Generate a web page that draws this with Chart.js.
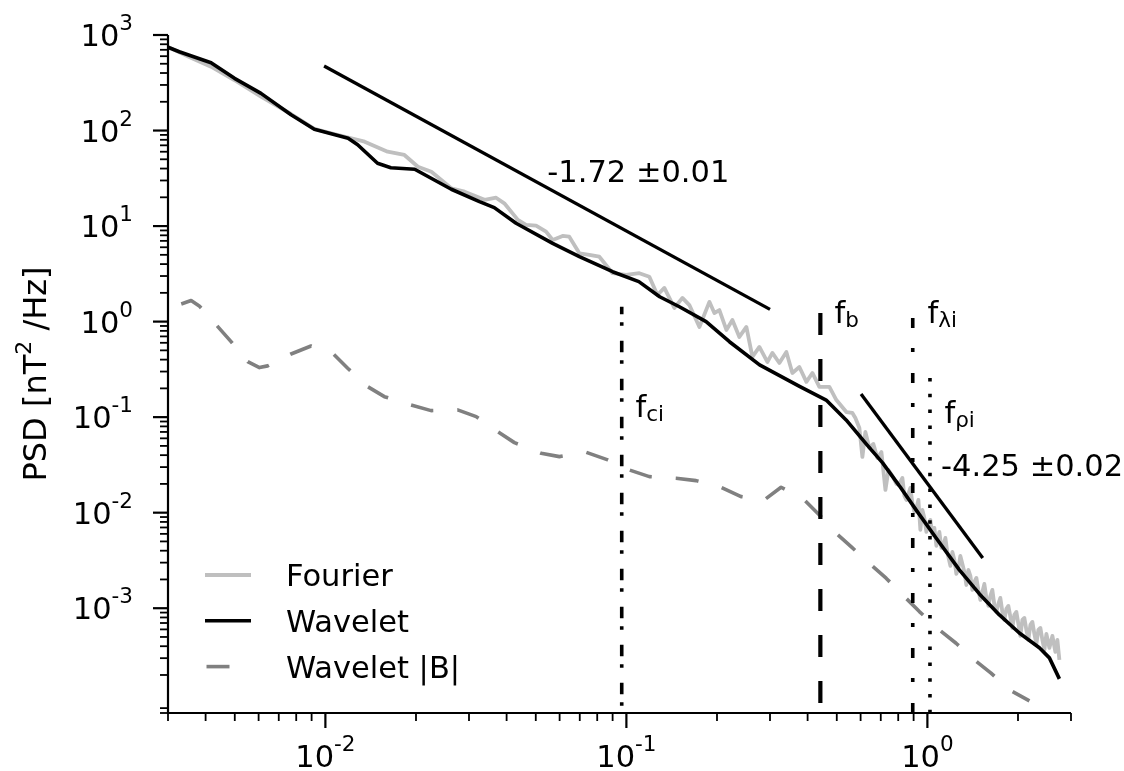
<!doctype html>
<html>
<head>
<meta charset="utf-8">
<title>PSD spectrum</title>
<script src="https://cdn.jsdelivr.net/npm/chart.js@4/dist/chart.umd.min.js"></script>
<style>
  html, body { margin: 0; padding: 0; background: #fff; }
</style>
</head>
<body>
<canvas id="psd" width="1124" height="771"></canvas>
<script>
// axis limits
var xMin = 0.003, xMax = 3;
var yMin = 8e-5, yMax = 1e3;

// tick labels (powers of ten)
var xMajorTicks = [0.01, 0.1, 1];
var xMajorExp = ['-2', '-1', '0'];
var yMajorTicks = [1e-3, 1e-2, 1e-1, 1, 10, 100, 1000];
var yMajorExp = ['-3', '-2', '-1', '0', '1', '2', '3'];

// Fourier spectrum
var fourierFreq = [0.003, 0.00353, 0.00417, 0.00498, 0.00611, 0.00769, 0.00919, 0.0107, 0.0122, 0.0135,
  0.0161, 0.0183, 0.0203, 0.0225, 0.0262, 0.0290, 0.0338, 0.0369, 0.0393, 0.0436,
  0.0464, 0.0501, 0.0541, 0.0569, 0.0614, 0.0646, 0.0698, 0.0753, 0.0813, 0.0900,
  0.0998, 0.1104, 0.1192, 0.1268, 0.1337, 0.1443, 0.1535, 0.1619, 0.1748, 0.1887,
  0.1960, 0.2037, 0.2149, 0.2250, 0.2373, 0.2504, 0.2622, 0.2766, 0.2940, 0.3055,
  0.3223, 0.3400, 0.3560, 0.3756, 0.3963, 0.4149, 0.4377, 0.4725, 0.4985, 0.5381,
  0.5634, 0.5765, 0.5944, 0.6083, 0.6223, 0.6416, 0.6616, 0.6823, 0.7035, 0.7255,
  0.7424, 0.7654, 0.7889, 0.8134, 0.8260, 0.8388, 0.8516, 0.8648, 0.8780, 0.8916,
  0.9054, 0.9194, 0.9335, 0.9478, 0.9625, 0.9772, 0.9924, 1.0076, 1.0232, 1.0390,
  1.0550, 1.0713, 1.0962, 1.1130, 1.1302, 1.1477, 1.1654, 1.1925, 1.2106, 1.2296,
  1.2482, 1.2677, 1.2870, 1.3070, 1.3270, 1.3475, 1.3682, 1.3894, 1.4107, 1.4326,
  1.4546, 1.4770, 1.4997, 1.5229, 1.5463, 1.5703, 1.5944, 1.6190, 1.6439, 1.6694,
  1.6950, 1.7212, 1.7476, 1.7747, 1.8020, 1.8298, 1.8579, 1.8868, 1.9157, 1.9454,
  1.9752, 2.0058, 2.0366, 2.0682, 2.0999, 2.1324, 2.1652, 2.1987, 2.2325, 2.2670,
  2.3018, 2.3375, 2.3734, 2.4101, 2.4471, 2.4851, 2.5428, 2.6020, 2.6620, 2.7035,
  2.7450];
var fourierPsd = [749, 589, 466, 338, 226, 149, 104, 92, 83, 76.4,
  60, 55.5, 41.8, 37.1, 24.9, 22.9, 18.8, 19.8, 17.3, 11.6,
  10.3, 10.1, 8.74, 7.15, 7.88, 7.75, 5.19, 4.98, 4.78, 3.21,
  3.08, 3.21, 2.95, 1.90, 2.25, 1.39, 1.77, 1.49, 0.879, 1.61,
  1.23, 1.32, 0.818, 1.04, 0.691, 0.879, 0.427, 0.543, 0.378, 0.470,
  0.369, 0.481, 0.290, 0.335, 0.234, 0.290, 0.207, 0.207, 0.151, 0.113,
  0.1106, 0.0981, 0.0771, 0.0383, 0.0700, 0.0476, 0.0524, 0.0374, 0.0432, 0.0173,
  0.0280, 0.0242, 0.0200, 0.0210, 0.0231, 0.01497, 0.01359, 0.0157, 0.01816, 0.01265,
  0.01018, 0.0112, 0.01359, 0.0066, 0.01069, 0.00881, 0.00629, 0.00763, 0.0084, 0.00585,
  0.00693, 0.00449, 0.00629, 0.00428, 0.0046, 0.00544, 0.00379, 0.00277, 0.00388, 0.0032,
  0.002286, 0.00264, 0.003527, 0.00291, 0.002398, 0.00175, 0.002517, 0.00218, 0.001554, 0.00189,
  0.002076, 0.00155, 0.001221, 0.00148, 0.001796, 0.00128, 0.001057, 0.00135, 0.001554, 0.00108,
  0.000915, 0.00111, 0.001282, 0.000915, 0.000754, 0.000983, 0.001057, 0.000811, 0.000622, 0.000851,
  0.000915, 0.000685, 0.000513, 0.000754, 0.000791, 0.000593, 0.000466, 0.000669, 0.000719, 0.000538,
  0.000423, 0.000593, 0.000622, 0.000466, 0.000366, 0.000538, 0.000384, 0.000513, 0.000349, 0.000466,
  0.000288];

// wavelet spectrum
var waveletFreq = [0.003, 0.00327, 0.00417, 0.00499, 0.00611, 0.00769, 0.00919, 0.0119, 0.0128, 0.0149,
  0.0165, 0.0198, 0.0262, 0.0325, 0.0364, 0.0430, 0.0569, 0.0698, 0.0900, 0.110,
  0.129, 0.150, 0.184, 0.220, 0.277, 0.376, 0.461, 0.537, 0.626, 0.710,
  0.807, 0.917, 1.069, 1.277, 1.489, 1.735, 2.021, 2.355, 2.543, 2.745];
var waveletPsd = [745, 668, 513, 352, 245, 146, 103, 83, 71, 45.4,
  40.8, 39.3, 24.3, 18.0, 15.6, 10.7, 6.6, 4.79, 3.33, 2.62,
  1.82, 1.43, 1.0, 0.616, 0.352, 0.210, 0.151, 0.0935, 0.0524, 0.0332,
  0.0191, 0.0107, 0.00544, 0.00252, 0.00141, 0.00085, 0.00055, 0.000385, 0.000302, 0.000182];

// wavelet spectrum of |B|
var waveletBFreq = [0.00332, 0.00358, 0.00381, 0.00439, 0.00486, 0.00552, 0.00604, 0.00643, 0.00769, 0.00896,
  0.01057, 0.01186, 0.01382, 0.0157, 0.01926, 0.02245, 0.0275, 0.0317, 0.03735, 0.04246,
  0.0521, 0.0599, 0.0735, 0.0867, 0.1023, 0.1192, 0.1463, 0.1704, 0.2063, 0.2404,
  0.2873, 0.3266, 0.3852, 0.4377, 0.4974, 0.5578, 0.650, 0.7293, 0.8388, 0.9406,
  1.096, 1.2455, 1.4327, 1.627, 1.873, 2.183];
var waveletBPsd = [1.53, 1.66, 1.46, 0.886, 0.617, 0.381, 0.330, 0.344, 0.4585, 0.556,
  0.4665, 0.325, 0.2086, 0.1638, 0.1342, 0.117, 0.119, 0.1012, 0.0705, 0.0541,
  0.0419, 0.0386, 0.0429, 0.0357, 0.0280, 0.02384, 0.02294, 0.02165, 0.01846, 0.01473,
  0.0136, 0.01846, 0.01417, 0.00947, 0.0061, 0.00441, 0.00284, 0.00206, 0.001322, 0.000922,
  0.000593, 0.00043, 0.000288, 0.000209, 0.0001397, 0.0001072];

// power-law fits: start point, end frequency, slope and error
var fitStartFreq = [0.0099, 0.602];
var fitStartPsd = [474, 0.175];
var fitEndFreq = [0.3, 1.527];
var fitSlope = [-1.72, -4.25];
var fitError = [0.01, 0.02];

// characteristic frequencies and the top of each marker line
var markerSub = ['ci', 'b', 'λi', 'ρi'];
var markerFreq = [0.0965, 0.441, 0.894, 1.02];
var markerTop = [1.43, 1.23, 1.09, 0.257];

// text anchors (data coordinates)
var markerLabelAt = [[0.1072, 0.1005], [0.491, 0.968], [1.001, 0.968], [1.139, 0.0863]];
var fitLabelAt = [[0.0546, 28.9], [1.11, 0.0243]];

var FONT = 'DejaVu Sans';
var FS = 30.5, FS_SMALL = 21.5;

function pts(xs, ys) {
  return xs.map(function (v, i) { return { x: v, y: ys[i] }; });
}

function fitLine(i) {
  var endPsd = fitStartPsd[i] * Math.pow(fitEndFreq[i] / fitStartFreq[i], fitSlope[i]);
  return [{ x: fitStartFreq[i], y: fitStartPsd[i] }, { x: fitEndFreq[i], y: endPsd }];
}

var markerStyle = [
  { dash: [11.5, 8, 3.5, 15], width: 3.6, offset: 4 },
  { dash: [22, 24], width: 4.2, offset: 0 },
  { dash: [10, 20, 4, 21], width: 3.6, offset: 0 },
  { dash: [3.5, 12.3], width: 3.6, offset: 0 }
];

var datasets = [
  { label: 'Fourier', data: pts(fourierFreq, fourierPsd), borderColor: '#bfbfbf', borderWidth: 3.8, order: 6 },
  { label: 'Wavelet', data: pts(waveletFreq, waveletPsd), borderColor: '#000000', borderWidth: 3.6, order: 4 },
  { label: 'Wavelet |B|', data: pts(waveletBFreq, waveletBPsd), borderColor: '#808080', borderWidth: 3.6,
    borderDash: [23, 24], order: 5 },
  { label: 'fit1', data: fitLine(0), borderColor: '#000000', borderWidth: 3.3, order: 3 },
  { label: 'fit2', data: fitLine(1), borderColor: '#000000', borderWidth: 3.3, order: 3 }
];
markerFreq.forEach(function (f, i) {
  datasets.push({
    label: 'f_' + markerSub[i],
    data: [{ x: f, y: markerTop[i] }, { x: f, y: yMin }],
    borderColor: '#000000',
    borderWidth: markerStyle[i].width,
    borderDash: markerStyle[i].dash,
    borderDashOffset: markerStyle[i].offset,
    order: 1
  });
});
datasets.forEach(function (d) {
  d.showLine = true;
  d.pointRadius = 0;
  d.tension = 0;
  d.fill = false;
  d.borderJoinStyle = 'round';
});

function minorTicks(lo, hi) {
  var out = [];
  for (var e = -6; e <= 3; e++) {
    for (var m = 2; m <= 9; m++) {
      var v = m * Math.pow(10, e);
      if (v >= lo * (1 - 1e-9) && v <= hi * (1 + 1e-9)) out.push(v);
    }
  }
  return out;
}

function drawPow(ctx, exp, px, baseline, align) {
  ctx.font = FS + 'px "' + FONT + '"';
  var w1 = ctx.measureText('10').width;
  ctx.font = FS_SMALL + 'px "' + FONT + '"';
  var w2 = ctx.measureText(exp).width;
  var x0 = align === 'center' ? px - (w1 + w2) / 2 : px - (w1 + w2);
  ctx.font = FS + 'px "' + FONT + '"';
  ctx.fillText('10', x0, baseline);
  ctx.font = FS_SMALL + 'px "' + FONT + '"';
  ctx.fillText(exp, x0 + w1, baseline - 16);
}

function drawSub(ctx, base, sub, px, baseline) {
  ctx.font = FS + 'px "' + FONT + '"';
  ctx.fillText(base, px, baseline);
  var w = ctx.measureText(base).width;
  ctx.font = FS_SMALL + 'px "' + FONT + '"';
  ctx.fillText(sub, px + w, baseline + 4);
}

var axesPlugin = {
  id: 'mplAxes',
  afterDraw: function (chart) {
    var ctx = chart.ctx, a = chart.chartArea;
    var xs = chart.scales.x, ys = chart.scales.y;
    ctx.save();
    ctx.fillStyle = '#000';
    ctx.strokeStyle = '#000';
    ctx.textAlign = 'left';
    ctx.textBaseline = 'alphabetic';

    // spines
    ctx.lineWidth = 2.2;
    ctx.beginPath();
    ctx.moveTo(a.left, a.top);
    ctx.lineTo(a.left, a.bottom);
    ctx.lineTo(a.right, a.bottom);
    ctx.stroke();

    // ticks
    function tickX(v, len, w) {
      var p = xs.getPixelForValue(v);
      ctx.lineWidth = w;
      ctx.beginPath(); ctx.moveTo(p, a.bottom); ctx.lineTo(p, a.bottom + len); ctx.stroke();
    }
    function tickY(v, len, w) {
      var p = ys.getPixelForValue(v);
      ctx.lineWidth = w;
      ctx.beginPath(); ctx.moveTo(a.left, p); ctx.lineTo(a.left - len, p); ctx.stroke();
    }
    minorTicks(xMin, xMax).forEach(function (v) { tickX(v, 8, 1.8); });
    minorTicks(yMin, yMax).forEach(function (v) { tickY(v, 8, 1.8); });
    xMajorTicks.forEach(function (v, i) {
      tickX(v, 15, 2.2);
      drawPow(ctx, xMajorExp[i], xs.getPixelForValue(v), a.bottom + 54, 'center');
    });
    yMajorTicks.forEach(function (v, i) {
      tickY(v, 15, 2.2);
      drawPow(ctx, yMajorExp[i], a.left - 35, ys.getPixelForValue(v) + 11, 'right');
    });

    // y axis title
    ctx.save();
    ctx.translate(46, (a.top + a.bottom) / 2);
    ctx.rotate(-Math.PI / 2);
    var fMain = '32px "' + FONT + '"', fSup = '22px "' + FONT + '"';
    ctx.font = fMain; var t1 = 'PSD [nT', t3 = ' /Hz]';
    var w1 = ctx.measureText(t1).width, w3 = ctx.measureText(t3).width;
    ctx.font = fSup; var w2 = ctx.measureText('2').width;
    var x0 = -(w1 + w2 + w3) / 2;
    ctx.font = fMain; ctx.fillText(t1, x0, 0);
    ctx.font = fSup; ctx.fillText('2', x0 + w1, -15);
    ctx.font = fMain; ctx.fillText(t3, x0 + w1 + w2, 0);
    ctx.restore();

    // marker labels
    markerSub.forEach(function (s, i) {
      drawSub(ctx, 'f', s, xs.getPixelForValue(markerLabelAt[i][0]), ys.getPixelForValue(markerLabelAt[i][1]));
    });

    // fit labels
    ctx.font = FS + 'px "' + FONT + '"';
    fitSlope.forEach(function (s, i) {
      var txt = s.toFixed(2) + ' \u00b1' + fitError[i].toFixed(2);
      ctx.fillText(txt, xs.getPixelForValue(fitLabelAt[i][0]), ys.getPixelForValue(fitLabelAt[i][1]));
    });

    // legend
    var rows = chart.data.datasets.slice(0, 3);
    rows.forEach(function (d, i) {
      var cy = a.bottom - 138 + i * 45.8;
      ctx.save();
      ctx.strokeStyle = d.borderColor;
      ctx.lineWidth = d.borderWidth;
      ctx.setLineDash(d.borderDash || []);
      ctx.beginPath();
      ctx.moveTo(d.borderDash ? 206.5 : 205, cy);
      ctx.lineTo(251, cy);
      ctx.stroke();
      ctx.restore();
      ctx.font = FS + 'px "' + FONT + '"';
      ctx.fillText(d.label, 286, cy + 11);
    });
    ctx.restore();
  }
};

new Chart(document.getElementById('psd'), {
  type: 'scatter',
  data: { datasets: datasets },
  options: {
    responsive: false,
    animation: false,
    layout: { padding: { left: 168, right: 53, top: 35, bottom: 58 } },
    plugins: { legend: { display: false }, tooltip: { enabled: false } },
    scales: {
      x: { type: 'logarithmic', min: xMin, max: xMax, display: false },
      y: { type: 'logarithmic', min: yMin, max: yMax, display: false }
    }
  },
  plugins: [axesPlugin]
});
</script>
</body>
</html>
